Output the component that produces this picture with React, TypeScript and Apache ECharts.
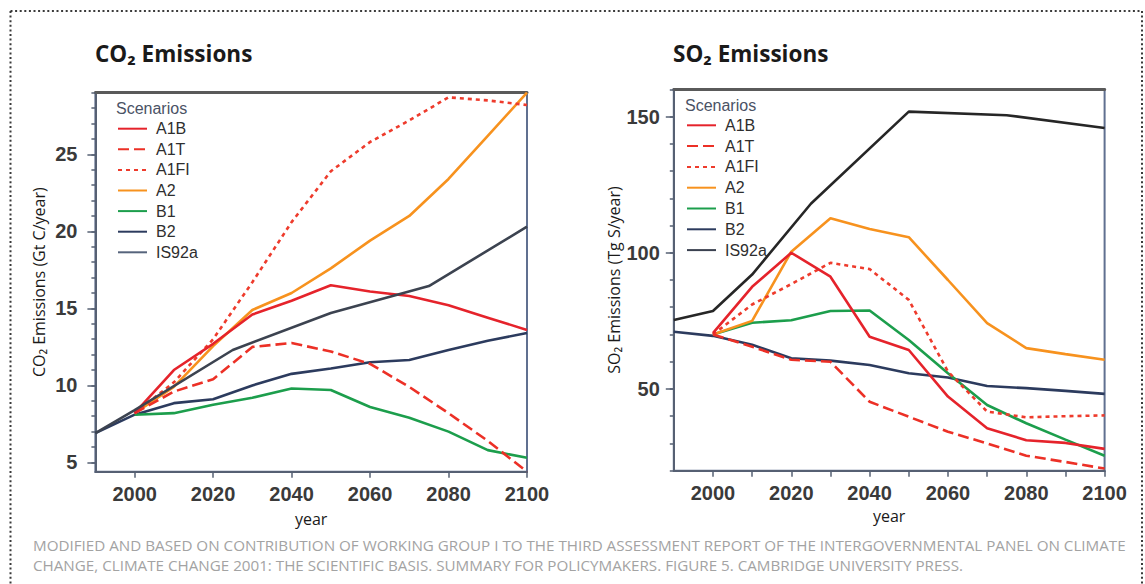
import React, { useEffect, useRef } from "react";
import * as echarts from "echarts";

// ---------- data ----------
const years = [1990, 2000, 2010, 2020, 2030, 2040, 2050, 2060, 2070, 2080, 2090, 2100];
const scenarioNames = ["A1B", "A1T", "A1FI", "A2", "B1", "B2", "IS92a"];

// CO2 emissions (Gt C/year)
const co2A1B = [null, 8.2, 11.0, 12.7, 14.6, 15.5, 16.5, 16.1, 15.8, 15.2, 14.4, 13.6];
const co2A1T = [null, 8.2, 9.6, 10.4, 12.5, 12.75, 12.2, 11.4, 9.9, 8.2, 6.4, 4.4];
const co2A1FI = [null, 8.2, 10.2, 13.0, 16.7, 20.6, 23.9, 25.8, 27.2, 28.7, 28.5, 28.2];
const co2A2 = [null, 8.2, 9.9, 12.55, 14.9, 16.0, 17.6, 19.4, 21.0, 23.4, 26.2, 29.0];
const co2B1 = [null, 8.1, 8.2, 8.75, 9.2, 9.8, 9.7, 8.6, 7.9, 7.0, 5.8, 5.3];
const co2B2 = [6.9, 8.1, 8.85, 9.1, 10.0, 10.75, 11.1, 11.5, 11.65, 12.3, 12.9, 13.4];
const co2IS92aYears = [1990, 2000, 2025, 2050, 2075, 2100];
const co2IS92a = [6.9, 8.4, 12.3, 14.7, 16.45, 20.3];

// SO2 emissions (Tg S/year)
const so2A1B = [null, 70.5, 87.5, 100, 91.2, 69.2, 64.3, 47.2, 35.6, 31.2, 30.2, 28.0];
const so2A1T = [null, 70, 65.5, 60.7, 60.0, 45.3, 39.8, 34.3, 30.0, 25.5, 23.2, 20.8];
const so2A1FI = [null, 70, 81, 88.5, 96.3, 94, 82.7, 56.4, 41.7, 39.6, 40.0, 40.3];
const so2A2 = [null, 70, 75, 100.4, 112.7, 108.7, 105.7, 90, 74.2, 65, 62.8, 60.7];
const so2B1 = [null, 70, 74.3, 75.2, 78.6, 78.8, 68.0, 55.8, 44.1, 37.4, 31.4, 25.5];
const so2B2 = [71, 69.5, 66.2, 61.3, 60.4, 58.8, 55.8, 54.2, 51.1, 50.3, 49.3, 48.2];
const so2IS92aYears = [1990, 2000, 2010, 2025, 2050, 2075, 2100];
const so2IS92a = [75.3, 78.6, 92, 118, 151.8, 150.5, 145.8];

// ticks
const xLabelYears = [2000, 2020, 2040, 2060, 2080, 2100];
const so2XTickYears = [2000, 2010, 2020, 2030, 2040, 2050, 2060, 2070, 2080, 2090, 2100];
const co2YLabels = [5, 10, 15, 20, 25];
const co2YMinorTicks = [5, 6, 7, 8, 9, 10, 11, 12, 13, 14, 15, 16, 17, 18, 19, 20, 21, 22, 23, 24, 25, 26, 27, 28, 29];
const so2YLabels = [50, 100, 150];
const so2YMinorTicks = [20, 30, 40, 50, 60, 70, 80, 90, 100, 110, 120, 130, 140, 150, 160];

const captionLines = [
  "MODIFIED AND BASED ON CONTRIBUTION OF WORKING GROUP I TO THE THIRD ASSESSMENT REPORT OF THE INTERGOVERNMENTAL PANEL ON CLIMATE",
  "CHANGE, CLIMATE CHANGE 2001: THE SCIENTIFIC BASIS. SUMMARY FOR POLICYMAKERS. FIGURE 5. CAMBRIDGE UNIVERSITY PRESS.",
];

// ---------- styles ----------
const styles: Record<string, { color: string; type: any }> = {
  A1B: { color: "#e5232b", type: "solid" },
  A1T: { color: "#ec3026", type: [11, 5] },
  A1FI: { color: "#ee3b2c", type: [4, 4] },
  A2: { color: "#f7921e", type: "solid" },
  B1: { color: "#1c9e4c", type: "solid" },
  B2: { color: "#2c3b5e", type: "solid" },
};

const pair = (xs: number[], vs: (number | null)[]) =>
  xs.map((x, i) => [x, vs[i]]).filter((p) => p[1] !== null);

function mkSeries(name: string, data: any[], gi: number, color: string, type: any) {
  return {
    name,
    type: "line",
    xAxisIndex: gi * 2,
    yAxisIndex: gi * 2,
    data,
    symbol: "none",
    showSymbol: false,
    lineStyle: { color, width: 2.6, type },
    itemStyle: { color },
  };
}

export default function App() {
  const ref = useRef<HTMLDivElement>(null);
  useEffect(() => {
    if (!ref.current) return;
    const chart = echarts.init(ref.current, undefined, { renderer: "svg" });

    const co2Sets: Record<string, any[]> = {
      A1B: pair(years, co2A1B),
      A1T: pair(years, co2A1T),
      A1FI: pair(years, co2A1FI),
      A2: pair(years, co2A2),
      B1: pair(years, co2B1),
      B2: pair(years, co2B2),
    };
    const so2Sets: Record<string, any[]> = {
      A1B: pair(years, so2A1B),
      A1T: pair(years, so2A1T),
      A1FI: pair(years, so2A1FI),
      A2: pair(years, so2A2),
      B1: pair(years, so2B1),
      B2: pair(years, so2B2),
    };
    const series: any[] = [];
    ["B2", "B1", "A2", "A1FI", "A1T", "A1B"].forEach((n) => {
      series.push(mkSeries(n, co2Sets[n], 0, styles[n].color, styles[n].type));
    });
    series.push(mkSeries("IS92a", pair(co2IS92aYears, co2IS92a), 0, "#3c4350", "solid"));
    ["B2", "B1", "A2", "A1FI", "A1T", "A1B"].forEach((n) => {
      series.push(mkSeries(n, so2Sets[n], 1, styles[n].color, styles[n].type));
    });
    series.push(mkSeries("IS92a", pair(so2IS92aYears, so2IS92a), 1, "#262626", "solid"));

    const frame = "#566073";
    const tickLabel = {
      fontSize: 20,
      fontWeight: "bold",
      color: "#3a3a3a",
      fontFamily: "Liberation Sans, Arial, sans-serif",
      formatter: (v: number) => String(v),
    };
    const nameStyle = { fontSize: 16, color: "#1a1a1a", fontFamily: "Open Sans, Noto Sans, sans-serif" };

    const mkX = (gi: number, ticks: number[], nameGap: number) => [
      {
        gridIndex: gi,
        type: "value",
        min: 1990,
        max: 2100,
        position: "bottom",
        axisLine: { show: true, onZero: false, lineStyle: { color: frame, width: 2 } },
        axisTick: { show: true, customValues: ticks, length: 6, lineStyle: { color: frame, width: 1.5 } },
        axisLabel: { ...tickLabel, customValues: xLabelYears, margin: 12 },
        splitLine: { show: false },
        name: "year",
        nameLocation: "middle",
        nameGap,
        nameTextStyle: nameStyle,
      },
      {
        gridIndex: gi,
        type: "value",
        min: 1990,
        max: 2100,
        position: "top",
        axisLine: { show: true, onZero: false, lineStyle: { color: "#5a5a5a", width: 3 } },
        axisTick: { show: false },
        axisLabel: { show: false },
        splitLine: { show: false },
      },
    ];
    const mkY = (
      gi: number,
      min: number,
      max: number,
      labels: number[],
      minor: number[],
      name: string,
      nameGap: number,
      margin: number
    ) => [
      {
        gridIndex: gi,
        type: "value",
        min,
        max,
        position: "left",
        axisLine: { show: true, onZero: false, lineStyle: { color: frame, width: 2 } },
        axisTick: { show: true, customValues: labels, length: 8, lineStyle: { color: frame, width: 1.5 } },
        axisLabel: { ...tickLabel, customValues: labels, margin },
        splitLine: { show: false },
        name,
        nameLocation: "middle",
        nameRotate: 90,
        nameGap,
        nameTextStyle: nameStyle,
      },
      {
        gridIndex: gi,
        type: "value",
        min,
        max,
        position: "left",
        axisLine: { show: false, onZero: false },
        axisTick: { show: true, customValues: minor, length: 4, lineStyle: { color: frame, width: 1.5 } },
        axisLabel: { show: false },
        splitLine: { show: false },
      },
    ];

    const legendCommon = {
      orient: "vertical",
      itemWidth: 29,
      itemHeight: 14,
      padding: 0,
      selectedMode: false,
      itemStyle: { opacity: 0 },
      textStyle: {
        fontSize: 16,
        color: "#2e2e2e",
        fontFamily: "Liberation Sans, Arial, sans-serif",
        lineHeight: 14,
        padding: [0, 0, 0, 4],
      },
    };

    const titleFont = "bold 22.5px 'Open Sans', 'Noto Sans', sans-serif";
    const dotted = { stroke: "#3a3a3a", lineWidth: 2, lineDash: [2, 2.6] };

    chart.setOption({
      animation: false,
      backgroundColor: "#ffffff",
      grid: [
        { left: 95.4, top: 92.7, width: 431.6, height: 379, show: true, borderColor: "#607090", borderWidth: 2 },
        { left: 673.8, top: 89.3, width: 430.8, height: 381.4, show: true, borderColor: "#607090", borderWidth: 2 },
      ],
      xAxis: [...mkX(0, xLabelYears, 39), ...mkX(1, so2XTickYears, 37)],
      yAxis: [
        ...mkY(0, 4.4, 29, co2YLabels, co2YMinorTicks, "CO₂ Emissions (Gt C/year)", 48, 18),
        ...mkY(1, 20, 160, so2YLabels, so2YMinorTicks, "SO₂ Emissions (Tg S/year)", 52, 14),
      ],
      legend: [
        {
          ...legendCommon,
          left: 117,
          top: 120.7,
          itemGap: 4.6,
          data: scenarioNames.map((n) =>
            n === "IS92a" ? { name: n, lineStyle: { color: "#56647c" } } : n
          ),
        },
        {
          ...legendCommon,
          left: 686,
          top: 117.3,
          itemGap: 4.8,
          data: scenarioNames.map((n) =>
            n === "IS92a" ? { name: n, lineStyle: { color: "#3a4150" } } : n
          ),
        },
      ],
      graphic: [
        { type: "line", shape: { x1: 10.5, y1: 11, x2: 1142, y2: 11 }, style: dotted, silent: true },
        { type: "line", shape: { x1: 10.5, y1: 11, x2: 10.5, y2: 584 }, style: dotted, silent: true },
        { type: "line", shape: { x1: 1142, y1: 11, x2: 1142, y2: 584 }, style: dotted, silent: true },
        {
          type: "text",
          x: 95,
          y: 53,
          style: { text: "CO₂ Emissions", font: titleFont, fill: "#1a1a1a", textVerticalAlign: "middle", verticalAlign: "middle" },
        },
        {
          type: "text",
          x: 673,
          y: 53,
          style: { text: "SO₂ Emissions", font: titleFont, fill: "#1a1a1a", textVerticalAlign: "middle", verticalAlign: "middle" },
        },
        {
          type: "text",
          x: 116,
          y: 108,
          style: {
            text: "Scenarios",
            font: "16px 'Liberation Sans', Arial, sans-serif",
            fill: "#4a5265",
            textVerticalAlign: "middle",
            verticalAlign: "middle",
          },
        },
        {
          type: "text",
          x: 685,
          y: 105,
          style: {
            text: "Scenarios",
            font: "16px 'Liberation Sans', Arial, sans-serif",
            fill: "#4a5265",
            textVerticalAlign: "middle",
            verticalAlign: "middle",
          },
        },
        ...captionLines.map((t, i) => ({
          type: "text",
          x: 33,
          y: 545 + i * 19.5,
          style: {
            text: t,
            font: "15.2px 'Open Sans', 'Noto Sans', sans-serif",
            fill: "#a3a3a3",
            textVerticalAlign: "middle",
            verticalAlign: "middle",
          },
        })),
      ],
      series,
    });
    return () => chart.dispose();
  }, []);
  return (
    <div
      ref={ref}
      style={{ position: "absolute", left: 0, top: 0, width: 1145, height: 584, background: "#fff" }}
    />
  );
}
